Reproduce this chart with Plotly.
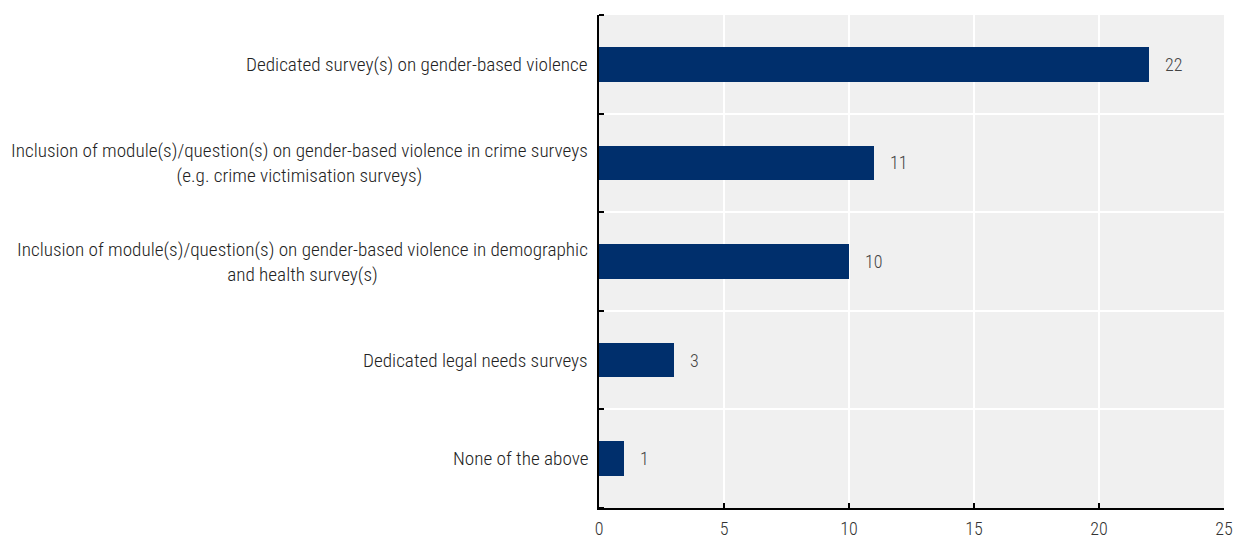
import plotly.graph_objects as go

categories = [
    "Dedicated survey(s) on gender-based violence",
    "Inclusion of module(s)/question(s) on gender-based violence in crime surveys<br>(e.g. crime victimisation surveys)",
    "Inclusion of module(s)/question(s) on gender-based violence in demographic<br>and health survey(s)",
    "Dedicated legal needs surveys",
    "None of the above",
]
values = [22, 11, 10, 3, 1]

FONT = "Roboto Condensed, Liberation Sans Narrow, sans-serif"
BAR = "#002F6C"

positions = list(range(len(categories)))

fig = go.Figure(
    go.Bar(
        x=values,
        y=positions,
        orientation="h",
        width=0.35,
        marker=dict(color=BAR, line=dict(width=0)),
        hoverinfo="x",
    )
)

# value labels just past each bar end
for pos, val in zip(positions, values):
    fig.add_annotation(
        x=val, y=pos, xref="x", yref="y",
        text=str(val), showarrow=False,
        xanchor="left", xshift=14,
        font=dict(family=FONT, size=18, color="#444444", weight=300),
    )

# category labels, centred lines, right-aligned against the axis
for pos, cat in zip(positions, categories):
    fig.add_annotation(
        x=0, y=pos, xref="paper", yref="y",
        text=cat, showarrow=False,
        xanchor="right", xshift=-9, align="center",
        font=dict(family=FONT, size=19.2, color="#222222", weight=300),
    )

boundaries = [p - 0.5 for p in positions] + [positions[-1] + 0.5]

fig.update_layout(
    width=1236, height=542,
    margin=dict(l=599, r=12, t=15, b=34, autoexpand=False),
    paper_bgcolor="white",
    plot_bgcolor="#F0F0F0",
    showlegend=False,
    bargap=0,
    xaxis=dict(
        range=[0, 25], dtick=5, tick0=0,
        automargin=False,
        showgrid=True, gridcolor="white", gridwidth=2,
        zeroline=False,
        showline=True, linecolor="black", linewidth=2,
        ticks="inside", ticklen=5, tickwidth=2, tickcolor="black",
        ticklabelstandoff=3,
        tickfont=dict(family=FONT, size=18, color="#333333", weight=300),
    ),
    yaxis=dict(
        range=[positions[-1] + 0.5, -0.5],
        automargin=False,
        showticklabels=False,
        tickvals=positions,
        showgrid=False, zeroline=False,
        showline=True, linecolor="black", linewidth=2,
        ticks="",
        minor=dict(
            tickvals=boundaries,
            ticks="inside", ticklen=5, tickwidth=2, tickcolor="black",
            showgrid=True, gridcolor="white", gridwidth=2,
        ),
    ),
)

fig.write_html("out.html")
